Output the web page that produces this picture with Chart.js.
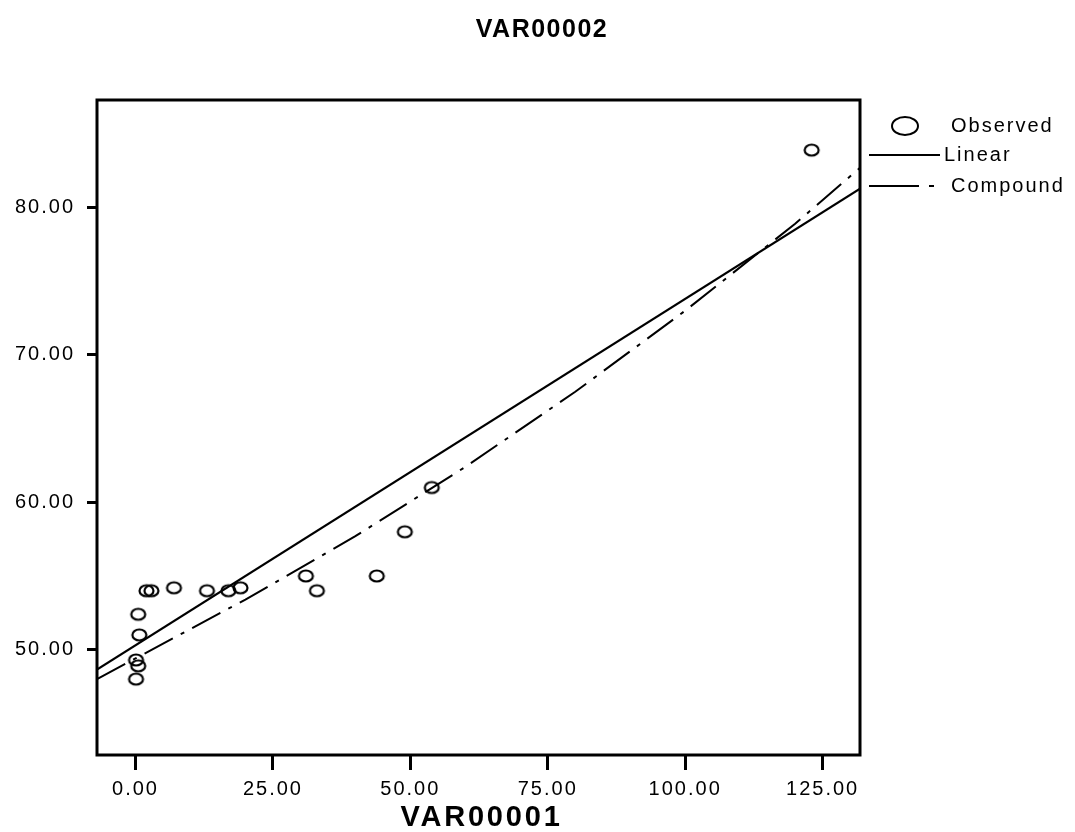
<!DOCTYPE html>
<html>
<head>
<meta charset="utf-8">
<script src="https://cdn.jsdelivr.net/npm/chart.js@4/dist/chart.umd.min.js"></script>
<style>
  body { margin: 0; background: #fff; }
</style>
</head>
<body>
<canvas id="chart" width="1075" height="832"></canvas>
<script>
// observed points (VAR00001, VAR00002)
var obsX = [123.0, 53.9, 49.0, 43.9, 31.0, 33.0, 19.1, 16.9, 13.0, 7.0, 2.9, 2.0, 0.5, 0.7, 0.1, 0.5, 0.1];
var obsY = [83.9, 61.0, 58.0, 55.0, 55.0, 54.0, 54.2, 54.0, 54.0, 54.2, 54.0, 54.0, 52.4, 51.0, 49.3, 48.9, 48.0];

// fitted lines
var linearX = [-7, 131.8];
var linearY = [48.65, 81.28];
var compoundX = [-7, 0, 20, 40, 60, 80, 100, 120, 131.8];
var compoundY = [48.0, 49.4, 53.4, 57.7, 62.4, 67.5, 73.0, 78.9, 82.7];

var xTicks = [0, 25, 50, 75, 100, 125];
var yTicks = [50, 60, 70, 80];

function toPoints(xs, ys) {
  return xs.map(function (x, i) { return { x: x, y: ys[i] }; });
}

function ellipseIcon(rx, ry, lw) {
  var c = document.createElement('canvas');
  c.width = Math.ceil(2 * rx + lw + 2);
  c.height = Math.ceil(2 * ry + lw + 2);
  var g = c.getContext('2d');
  g.lineWidth = lw;
  g.strokeStyle = '#000';
  g.beginPath();
  g.ellipse(c.width / 2, c.height / 2, rx, ry, 0, 0, Math.PI * 2);
  g.stroke();
  return c;
}

var tickFont = { family: 'Liberation Sans', size: 20 };

// draws the frame, titles and the legend
var extras = {
  id: 'extras',
  beforeDraw: function (chart) {
    chart.ctx.letterSpacing = '2px';
  },
  afterDatasetsDraw: function (chart) {
    var ctx = chart.ctx, a = chart.chartArea;
    ctx.save();
    ctx.strokeStyle = '#000';
    ctx.lineWidth = 3;
    ctx.strokeRect(a.left, a.top, a.right - a.left, a.bottom - a.top);
    ctx.restore();
  },
  afterDraw: function (chart) {
    var ctx = chart.ctx, a = chart.chartArea;
    ctx.save();
    ctx.fillStyle = '#000';
    ctx.textBaseline = 'middle';
    ctx.textAlign = 'center';
    ctx.font = 'bold 25px "Liberation Sans"';
    ctx.letterSpacing = '1.5px';
    ctx.fillText('VAR00002', 542, 30);
    ctx.font = 'bold 29px "Liberation Sans"';
    ctx.letterSpacing = '2.8px';
    ctx.fillText('VAR00001', (a.left + a.right) / 2 + 3, 818);

    // legend
    var ds = chart.data.datasets;
    ctx.textAlign = 'left';
    ctx.font = '20px "Liberation Sans"';
    ctx.letterSpacing = '2px';
    var rows = [126, 155, 186];
    ctx.lineWidth = 2;
    ctx.strokeStyle = '#000';
    ctx.beginPath();
    ctx.ellipse(905, rows[0], 13, 9, 0, 0, Math.PI * 2);
    ctx.stroke();
    ctx.fillText(ds[0].label, 951, rows[0]);

    ctx.beginPath();
    ctx.moveTo(869, rows[1]);
    ctx.lineTo(940, rows[1]);
    ctx.stroke();
    ctx.fillText(ds[1].label, 944, rows[1]);

    ctx.setLineDash([50, 10, 5, 100]);
    ctx.beginPath();
    ctx.moveTo(869, rows[2]);
    ctx.lineTo(937, rows[2]);
    ctx.stroke();
    ctx.setLineDash([]);
    ctx.fillText(ds[2].label, 951, rows[2]);
    ctx.restore();
  }
};

var ctx = document.getElementById('chart');
var myChart = new Chart(ctx, {
  type: 'scatter',
  data: {
    datasets: [
      {
        label: 'Observed',
        data: toPoints(obsX, obsY),
        pointStyle: ellipseIcon(7, 5.5, 2.2),
        pointRadius: 7
      },
      {
        label: 'Linear',
        data: toPoints(linearX, linearY),
        showLine: true,
        borderColor: '#000',
        borderWidth: 2,
        pointRadius: 0
      },
      {
        label: 'Compound',
        data: toPoints(compoundX, compoundY),
        showLine: true,
        borderColor: '#000',
        borderWidth: 2,
        borderDash: [32, 9, 4, 9],
        pointRadius: 0
      }
    ]
  },
  options: {
    responsive: false,
    animation: false,
    layout: { autoPadding: false, padding: { top: 100, right: 215, left: 0, bottom: 0 } },
    plugins: {
      legend: { display: false },
      tooltip: { enabled: false }
    },
    scales: {
      x: {
        type: 'linear',
        position: 'bottom',
        min: -7,
        max: 131.8,
        border: { display: false },
        grid: { drawOnChartArea: false, drawTicks: true, tickLength: 15, color: '#000', lineWidth: 3 },
        ticks: {
          font: tickFont,
          color: '#000',
          padding: 7,
          maxRotation: 0,
          autoSkip: false,
          callback: function (v) { return v.toFixed(2); }
        },
        afterBuildTicks: function (s) { s.ticks = xTicks.map(function (v) { return { value: v }; }); },
        afterFit: function (s) { s.height = 77; }
      },
      y: {
        type: 'linear',
        min: 42.85,
        max: 87.3,
        border: { display: false },
        grid: { drawOnChartArea: false, drawTicks: true, tickLength: 10, color: '#000', lineWidth: 3 },
        ticks: {
          font: tickFont,
          color: '#000',
          padding: 12,
          autoSkip: false,
          callback: function (v) { return v.toFixed(2); }
        },
        afterBuildTicks: function (s) { s.ticks = yTicks.map(function (v) { return { value: v }; }); },
        afterFit: function (s) { s.width = 97; }
      }
    }
  },
  plugins: [extras]
});
</script>
</body>
</html>
